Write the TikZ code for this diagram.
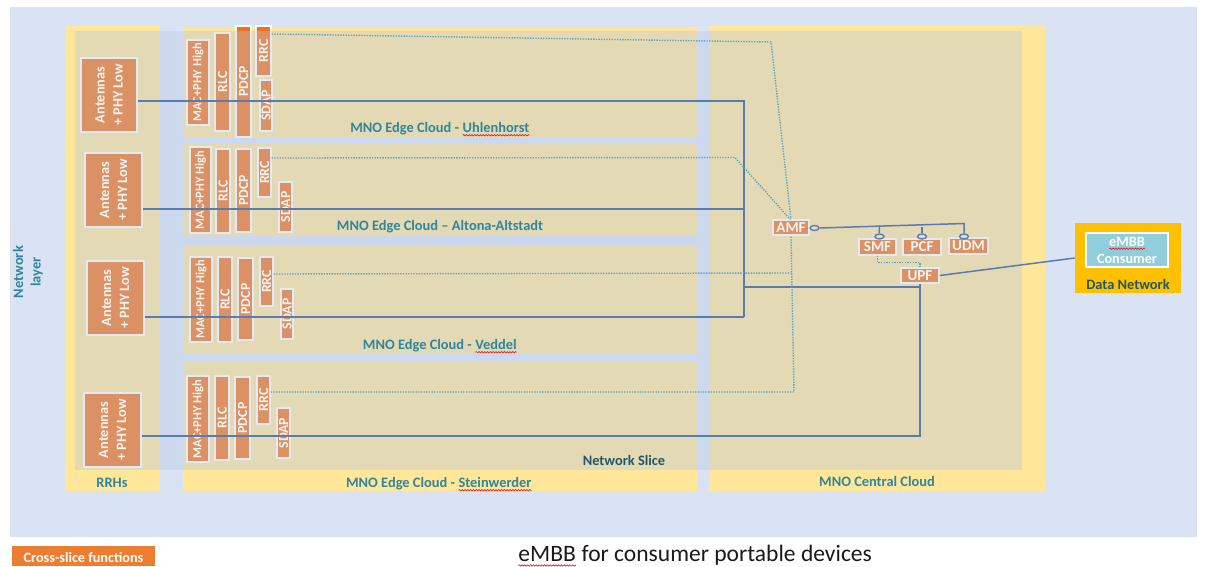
\documentclass[tikz,border=0pt]{standalone}
\usepackage{fontspec}
\setmainfont{Carlito}
\usetikzlibrary{fit,calc,shapes.geometric,decorations.pathmorphing}

\definecolor{layerblue}{HTML}{DAE3F3}
\definecolor{cloudyellow}{HTML}{FFE699}
\definecolor{fnorange}{HTML}{F27218}
\definecolor{legendorange}{HTML}{ED7D31}
\definecolor{slicetint}{HTML}{B4C7E7}
\definecolor{linkblue}{HTML}{587BB0}
\definecolor{ctrlteal}{HTML}{5BA3BE}
\definecolor{labelteal}{HTML}{31859C}
\definecolor{darkteal}{HTML}{215968}
\definecolor{dngold}{HTML}{FFC000}
\definecolor{consumerblue}{HTML}{92CDDC}
\definecolor{portfill}{HTML}{E4DCB5}
\definecolor{spellred}{HTML}{E0262B}
\definecolor{titlegray}{HTML}{1A1A1A}
\definecolor{boxtext}{HTML}{F7F4F0}

\tikzset{
  fnbox/.style={fill=fnorange, draw=white, line width=0.85pt, inner sep=0pt},
  vtext/.style={rotate=90, text=boxtext, inner sep=0pt, align=center,
    font=\bfseries\fontsize{7.9}{9.6}\selectfont},
  antfont/.style={font=\bfseries\fontsize{8.1}{10.2}\selectfont},
  macfont/.style={font=\bfseries\fontsize{7.1}{8.8}\selectfont},
  nftext/.style={text=boxtext, font=\bfseries\fontsize{8.1}{9.8}\selectfont},
  corefont/.style={font=\bfseries\fontsize{8.6}{9.8}\selectfont},
  lbl/.style={text=labelteal, inner sep=0pt, font=\bfseries\fontsize{8.2}{10}\selectfont},
  link/.style={draw=linkblue, line width=0.85pt},
  ctrl/.style={draw=ctrlteal, line width=0.8pt, dash pattern=on 0.75pt off 0.75pt},
  port/.style={ellipse, draw=linkblue, line width=0.75pt, fill=portfill,
    minimum width=0.18cm, minimum height=0.1cm, inner sep=0pt},
  spell/.style={draw=spellred, line width=0.4pt, decorate,
    decoration={snake, amplitude=0.4pt, segment length=1.6pt}},
}

% word with a red wavy underline
\newcommand\spellmark[1]{\tikz[baseline=(sw.base)]{%
  \node[inner sep=0pt, outer sep=0pt, anchor=base] (sw) at (0,0) {#1};
  \draw[spell] ([yshift=-0.19em]sw.base west) -- ([yshift=-0.19em]sw.base east);}}

% function block: {name}{x1}{y1}{x2}{y2}
\newcommand\fnblock[5]{\node[fnbox, fit={(#2,#3)(#4,#5)}] (#1) {};}
% vertical caption of a function block: [style]{name}{text}
\newcommand\fncaption[3][]{\node[vtext, #1] (#2-t) at (#2.center) {#3};}

\begin{document}
\begin{tikzpicture}[x=0.02cm, y=-0.02cm]
\useasboundingbox (0,0) rectangle (1208,566);
\fill[white] (0,0) rectangle (1208,566);

% network layer background
\fill[layerblue] (10,7) rectangle (1197,537);

% sites
\fill[cloudyellow] (65,26) rectangle (160,491);
\fill[cloudyellow] (183,27) rectangle (697,137);
\fill[cloudyellow] (183,143) rectangle (697,236);
\fill[cloudyellow] (183,245) rectangle (697,353);
\fill[cloudyellow] (183,361) rectangle (697,491);
\fill[cloudyellow] (709,26) rectangle (1045,491);

% remote radio heads
\fnblock{ant1}{81}{58}{137}{132}
\fnblock{ant2}{85}{153}{142}{227}
\fnblock{ant3}{87}{261}{144}{335}
\fnblock{ant4}{84}{393}{141}{467}

% edge protocol stacks
\fnblock{mac1}{187}{40}{209}{125}
\fnblock{rlc1}{215}{33}{230}{131}
\fnblock{pdcp1}{236}{26}{251}{137}
\fnblock{rrc1}{256}{26}{271}{76}
\fnblock{sdap1}{260}{80}{272}{131}

\fnblock{mac2}{190}{147}{211}{233}
\fnblock{rlc2}{216}{149}{230}{233}
\fnblock{pdcp2}{236}{149}{251}{232}
\fnblock{rrc2}{258}{148}{271}{197}
\fnblock{sdap2}{279}{182}{292}{232}

\fnblock{mac3}{190}{257}{212}{342}
\fnblock{rlc3}{218}{257}{232}{342}
\fnblock{pdcp3}{238}{258}{253}{340}
\fnblock{rrc3}{260}{257}{273}{306}
\fnblock{sdap3}{281}{289}{293}{339}

\fnblock{mac4}{187}{376}{209}{462}
\fnblock{rlc4}{215}{376}{229}{460}
\fnblock{pdcp4}{235}{377}{250}{459}
\fnblock{rrc4}{257}{376}{270}{424}
\fnblock{sdap4}{277}{408}{290}{458}

% core network functions
\fnblock{amf}{773}{220}{809}{235}
\fnblock{smf}{859}{239}{896}{255}
\fnblock{pcf}{903}{239}{941}{255}
\fnblock{udm}{949}{238}{988}{254}
\fnblock{upf}{901}{268}{939}{283}

% network slice overlay
\fill[slicetint, fill opacity=0.37] (75,31) rectangle (1022,470);

% captions
\foreach \a in {ant1,ant2,ant3,ant4}{\fncaption[antfont]{\a}{Antennas\\+ PHY Low}}
\foreach \r in {1,2,3,4}{
  \fncaption[macfont]{mac\r}{MAC+PHY High}
  \fncaption{rlc\r}{RLC}
  \fncaption{pdcp\r}{PDCP}
  \fncaption{rrc\r}{RRC}
  \fncaption{sdap\r}{SDAP}
}
\node[nftext, corefont, inner sep=0pt] (amf-t) at (amf.center) {AMF};
\node[nftext, corefont, inner sep=0pt] (smf-t) at (smf.center) {SMF};
\node[nftext, corefont, inner sep=0pt] (pcf-t) at (pcf.center) {PCF};
\node[nftext, corefont, inner sep=0pt] (udm-t) at (udm.center) {UDM};
\node[nftext, corefont, inner sep=0pt] (upf-t) at (upf.center) {UPF};

% user plane
\coordinate (j1) at (744,101);
\coordinate (j2) at (744,209);
\coordinate (j3) at (744,317);
\coordinate (jb) at (744,287);
\coordinate (j4) at (920,436);
\draw[link] (ant1.east |- j1) -- (j1) -- (j3);
\draw[link] (ant2.east |- j2) -- (j2);
\draw[link] (ant3.east |- j3) -- (j3);
\draw[link] (jb) -- (jb -| upf.south);
\draw[link] (ant4.east |- j4) -- (j4) -- (upf.south);

% control plane
\coordinate (c1) at (771,42);
\coordinate (c2) at (735,157.5);
\coordinate (c3) at (792,273);
\coordinate (c4) at (794,392);
\draw[ctrl] (rrc1.east |- 0,34) -- (c1) -- (amf.north);
\draw[ctrl] (rrc2.east |- 0,158) -- (c2) -- ([xshift=-0.5pt]amf.north);
\draw[ctrl] (rrc3.east |- 0,274) -- (c3);
\draw[ctrl] (rrc4.east |- 0,392) -- (c4) -- (amf.south);
\draw[ctrl] (smf.south) -- ++(0,7) -| (upf.north);

% service based interface
\node[port] (amfp) at (814.5,228) {};
\node[port] (smfp) at (879.5,236.5) {};
\node[port] (pcfp) at (922,236.5) {};
\node[port] (udmp) at (964,236.5) {};
\coordinate (busend) at (964,223.5);
\draw[link] (amfp.east) -- (busend) -- (udmp.north);
\draw[link] (smfp.north) -- ($(amfp.east)!(smfp.north)!(busend)$);
\draw[link] (pcfp.north) -- ++(0,-6);

% data network
\node[fill=dngold, inner sep=0pt, fit={(1075,223)(1181,293)}] (dn) {};
\node[fill=consumerblue, draw=white, line width=0.85pt, inner sep=0pt, fit={(1086,233)(1168,267)}] (cons) {};
\node[nftext, text=white, anchor=base, inner sep=0pt] (consa) at (1127,246) {\spellmark{eMBB}};
\node[nftext, text=white, anchor=base, inner sep=0pt] (consb) at (1127,263.5) {Consumer};
\node[lbl, text=darkteal, anchor=base] (dnl) at (1128,289) {Data Network};
\draw[link] (upf.east) -- (dn.west);

% labels
\node[lbl, anchor=base] (lu) at (440,132.5) {MNO Edge Cloud - \spellmark{Uhlenhorst}};
\node[lbl, anchor=base] (la) at (440,230.5) {MNO Edge Cloud – Altona-Altstadt};
\node[lbl, anchor=base] (lv) at (440,349.5) {MNO Edge Cloud - \spellmark{Veddel}};
\node[lbl, anchor=base] (ls) at (439,487.5) {MNO Edge Cloud - \spellmark{Steinwerder}};
\node[lbl, anchor=base] (lc) at (877,486.5) {MNO Central Cloud};
\node[lbl, anchor=base] (lr) at (112,487.5) {RRHs};
\node[lbl, anchor=base, text=darkteal] (lns) at (624,465.5) {Network Slice};
\node[lbl, rotate=90, align=center] (lnl) at (28,272) {Network\\layer};

% legend and title
\node[fill=legendorange, inner sep=0pt, fit={(12,546)(155,566)}] (xsbox) {};
\node[nftext, text=white, anchor=base, inner sep=0pt] (xs) at (83.5,562.5) {Cross-slice functions};
\node[anchor=base, inner sep=0pt, text=titlegray, font=\fontsize{13.4}{16}\selectfont] (title) at (695,561) {\spellmark{eMBB} for consumer portable devices};
\end{tikzpicture}
\end{document}
